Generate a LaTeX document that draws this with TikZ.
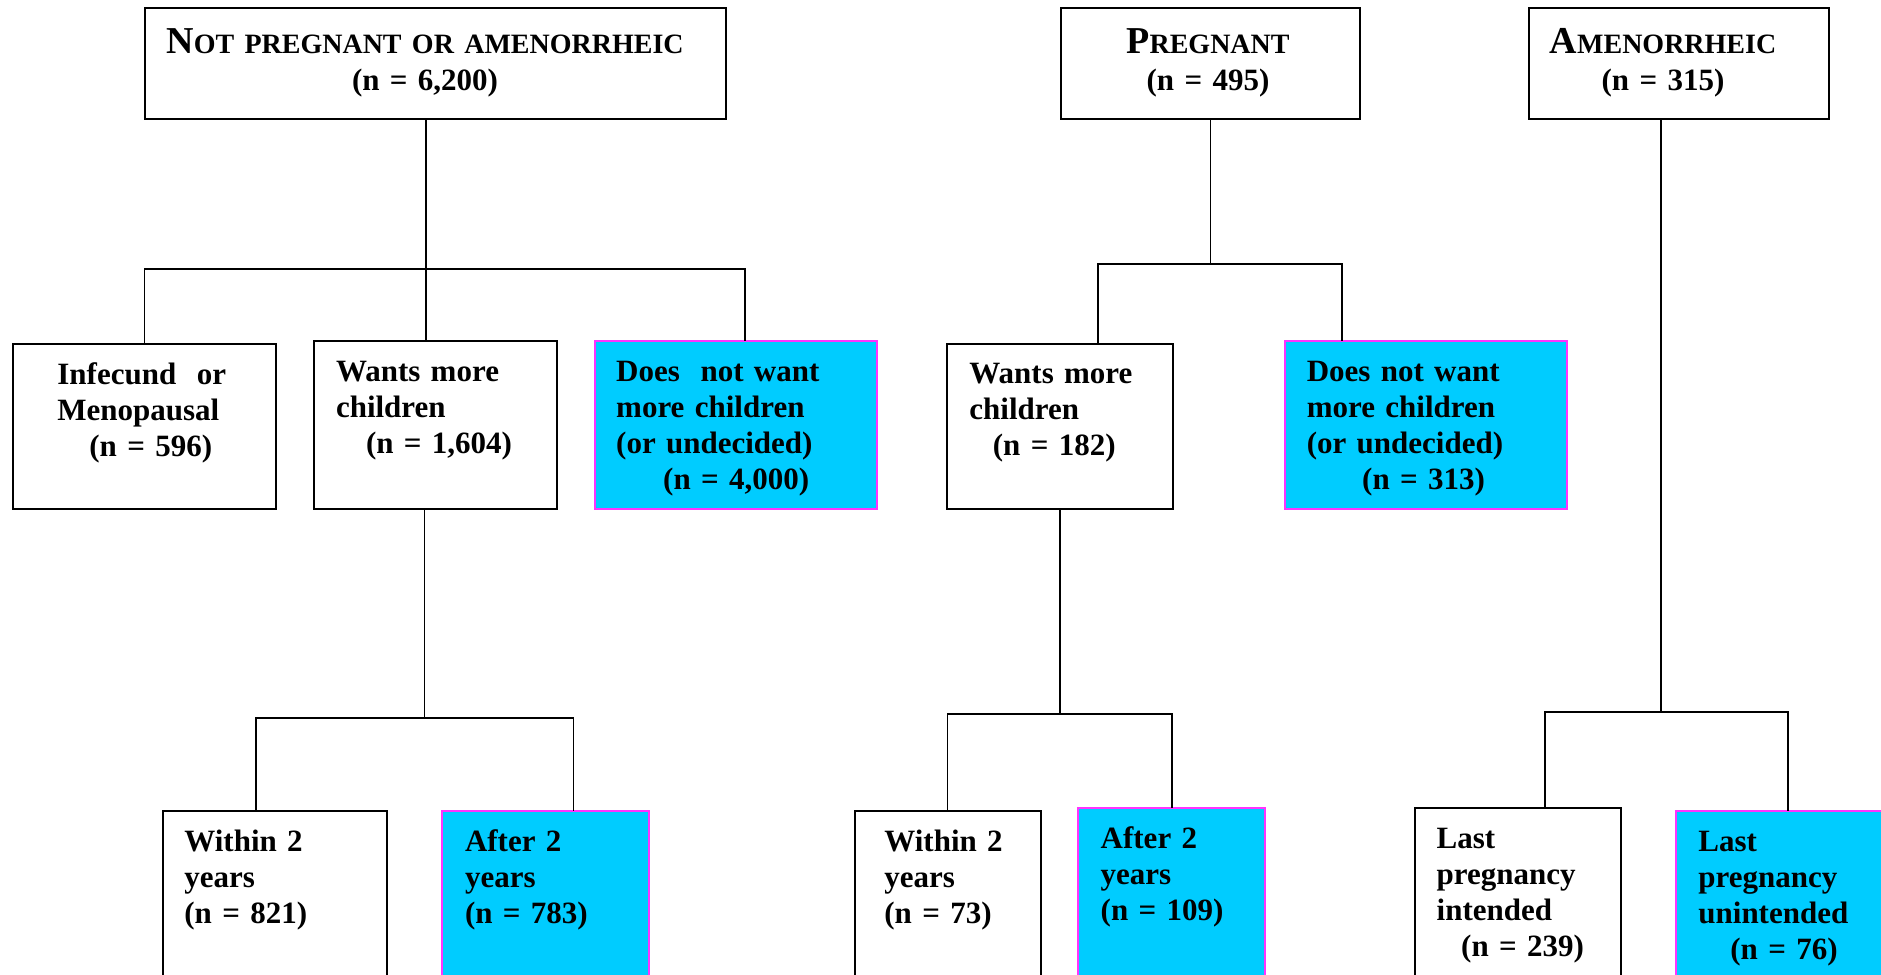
\documentclass[tikz,border=0pt]{standalone}
\usepackage{fontspec}
\setmainfont{Liberation Serif}

\definecolor{skyfill}{HTML}{00CCFF}
\definecolor{pinkline}{HTML}{FF33FF}
\newcommand{\titlecap}[2]{{\fontsize{19}{18}\selectfont #1}{\fontsize{14}{18}\selectfont #2}}

\begin{document}
\begin{tikzpicture}[x=0.5pt, y=-0.5pt,
  box/.style={draw=black, line width=1pt, fill=white, inner sep=0pt, outer sep=0pt, anchor=north west},
  hibox/.style={box, draw=pinkline, fill=skyfill},
  boxsize/.style 2 args={minimum width=#1*0.5pt, minimum height=#2*0.5pt},
  txt/.style={font=\bfseries\fontsize{15.5}{18}\selectfont, inner sep=0pt, text width=150pt, align=left, anchor=base west},
  ttl/.style={font=\bfseries\fontsize{15.5}{18.5}\selectfont, inner sep=0pt, text width=300pt, align=center, anchor=base},
  link/.style={line width=0.75pt}]
  \clip (0,0) rectangle (1881,975);

  % --- top row ---
  \node[box, boxsize={581.5}{111.5}] (np) at (144.5,7.5) {};
  \node[box, boxsize={299.5}{111.5}] (pg) at (1060.5,7.5) {};
  \node[box, boxsize={300}{111.5}] (am) at (1529,7.5) {};
  \node[ttl] (np-t) at (425,53) {\titlecap{N}{OT PREGNANT OR AMENORRHEIC}\\(n = 6,200)};
  \node[ttl] (pg-t) at (1208,53) {\titlecap{P}{REGNANT}\\(n = 495)};
  \node[ttl] (am-t) at (1663,53) {\titlecap{A}{MENORRHEIC}\\(n = 315)};

  % --- middle row ---
  \node[box, boxsize={263}{165}] (inf) at (13,344) {};
  \node[box, boxsize={243}{168}] (wm) at (314,341) {};
  \node[hibox, boxsize={282}{168}] (dnw) at (595,341) {};
  \node[box, boxsize={226}{165}] (wmp) at (947,344) {};
  \node[hibox, boxsize={282}{168}] (dnwp) at (1285,341) {};
  \node[txt] (inf-t) at (57,384) {Infecund\ \ or\\Menopausal\\\hspace*{16pt}(n = 596)};
  \node[txt] (wm-t) at (335.6,381) {Wants more\\children\\\hspace*{15pt}(n = 1,604)};
  \node[txt] (dnw-t) at (615.8,381) {Does\ \ not want\\more children\\(or undecided)\\\hspace*{23.5pt}(n = 4,000)};
  \node[txt] (wmp-t) at (969,383) {Wants more\\children\\\hspace*{11.75pt}(n = 182)};
  \node[txt] (dnwp-t) at (1306.4,381) {Does not want\\more children\\(or undecided)\\\hspace*{27.7pt}(n = 313)};

  % --- bottom row ---
  \node[box, boxsize={224}{189}] (w2) at (162.5,811) {};
  \node[hibox, boxsize={206.6}{189}] (a2) at (442.4,811) {};
  \node[box, boxsize={186}{189}] (w2p) at (854.5,811) {};
  \node[hibox, boxsize={187.3}{192}] (a2p) at (1077.7,808) {};
  \node[box, boxsize={206}{192}] (li) at (1415,808) {};
  \node[hibox, boxsize={250}{189}] (lu) at (1676,811) {};
  \node[txt] (w2-t) at (184,851) {Within 2\\years\\(n = 821)};
  \node[txt] (a2-t) at (464.6,851) {After 2\\years\\(n = 783)};
  \node[txt] (w2p-t) at (884,851) {Within 2\\years\\(n = 73)};
  \node[txt] (a2p-t) at (1100.3,848) {After 2\\years\\(n = 109)};
  \node[txt] (li-t) at (1436.3,848) {Last\\pregnancy\\intended\\\hspace*{12.25pt}(n = 239)};
  \node[txt] (lu-t) at (1698,851) {Last\\pregnancy\\unintended\\\hspace*{16pt}(n = 76)};

  % --- connectors ---
  \coordinate (npj) at (426,269);
  \coordinate (npr) at (745,269);
  \draw[link] (np.south -| npj) -- (wm.north -| npj);
  \draw[link] (inf.north) |- (npr) -- (dnw.north -| npr);

  \coordinate (pgl) at (1098,264);
  \coordinate (pgr) at (1342,264);
  \draw[link] (pg.south) -- (pg.south |- pgl);
  \draw[link] (wmp.north -| pgl) -- (pgl) -- (pgr) -- (dnwp.north -| pgr);

  \coordinate (amj) at (1661,712);
  \coordinate (aml) at (1545,712);
  \coordinate (amr) at (1788,712);
  \draw[link] (am.south -| amj) -- (amj);
  \draw[link] (li.north -| aml) -- (aml) -- (amr) -- (lu.north -| amr);

  \coordinate (wmj) at (424.5,718);
  \coordinate (wml) at (256,718);
  \coordinate (wmr) at (573.7,718);
  \draw[link] (wm.south -| wmj) -- (wmj);
  \draw[link] (w2.north -| wml) -- (wml) -- (wmr) -- (a2.north -| wmr);

  \coordinate (wpl) at (947.6,714);
  \coordinate (wpr) at (1172,714);
  \draw[link] (wmp.south) -- (wmp.south |- wpl);
  \draw[link] (w2p.north -| wpl) -- (wpl) -- (wpr) -- (a2p.north -| wpr);
\end{tikzpicture}
\end{document}
